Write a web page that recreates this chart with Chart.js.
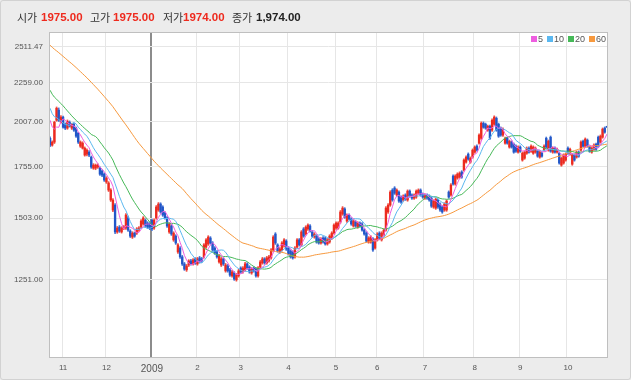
<!DOCTYPE html>
<html><head><meta charset="utf-8">
<script src="https://cdn.jsdelivr.net/npm/chart.js@4.4.1/dist/chart.umd.min.js"></script>
<style>
html,body{margin:0;padding:0;background:#ececec;}
#wrap{position:relative;width:631px;height:380px;overflow:hidden;background:#ececec;}
#frame{position:absolute;left:0;top:0;width:629px;height:378px;border:1px solid #d2d2d2;border-radius:3px;}
#c{position:absolute;left:0;top:0;}
.h{position:absolute;top:9px;font-size:11px;line-height:16px;white-space:nowrap;}
.k{font-family:'Noto Sans CJK KR','Noto Sans',sans-serif;color:#333;}
.v{font-family:'Liberation Sans',Arial,sans-serif;font-weight:bold;font-size:11.5px;color:#ee2a1e;}
.b{color:#222;}
#leg{position:absolute;top:34px;left:527px;font-family:'Liberation Sans',sans-serif;font-size:9px;color:#555;white-space:nowrap;}
#leg span.s{display:inline-block;width:6px;height:6px;margin:0 1px 0 4px;vertical-align:0px;}
</style></head>
<body><div id="wrap">
<div id="frame"></div>
<canvas id="c" width="631" height="380"></canvas>
<span class="h k" style="left:17px">시가</span>
<span class="h v" style="left:41px">1975.00</span>
<span class="h k" style="left:90px">고가</span>
<span class="h v" style="left:113px">1975.00</span>
<span class="h k" style="left:163px">저가</span>
<span class="h v" style="left:183px">1974.00</span>
<span class="h k" style="left:232px">종가</span>
<span class="h v b" style="left:256px">1,974.00</span>
<div id="leg"></div>
</div>
<script>
// ---- data ----
const monthLabels = ['10','11','12','2009','2','3','4','5','6','7','8','9','10'];
const tradingDays = [6,20,21,21,20,22,22,19,22,23,21,22,19];
const yTicks = [2511.47,2259,2007,1755,1503,1251];
const yTickLabels = ['2511.47','2259.00','2007.00','1755.00','1503.00','1251.00'];
const maPeriods = [5,10,20,60];
const maColors = ['#ee5ee0','#5bb8f0','#46b958','#f7993e'];

// closes before the first visible day (needed for the moving averages)
const earlierClose = [
2850,2870,2830,2810,2840,2800,2790,2815,2780,2760,2775,2745,2760,2730,2745,2720,2700,2715,2690,2680,2700,2665,
2690,2670,2650,2660,2630,2620,2600,2610,2590,2570,2580,2560,2545,2550,2530,2540,2520,2505,
2420,2380,2350,2300,2320,2250,2290,2330,2280,2300,
2230,2190,2150,2120,2130,2090,2065,2030,2024];

const open = [
1910,1871,1888,2016,2078,2004,2035,1992,1969,2004,
1969,1992,1969,1939,1865,1854,1816,1821,1832,1805,
1746,1746,1752,1746,1731,1715,1675,1635,1587,1540,
1563,1442,1463,1442,1459,1459,1504,1446,1420,1437,
1437,1450,1463,1477,1494,1481,1477,1494,1459,1504,
1540,1568,1554,1526,1504,1442,1468,1408,1424,1358,
1374,1338,1310,1287,1306,1322,1310,1330,1310,1334,
1330,1338,1378,1391,1416,1395,1374,1358,1318,1306,
1330,1283,1302,1287,1264,1275,1249,1264,1294,1279,
1287,1310,1298,1275,1294,1290,1264,1298,1314,1330,
1314,1322,1334,1366,1433,1387,1358,1366,1383,1403,
1374,1362,1358,1338,1378,1408,1387,1455,1433,1455,
1468,1442,1420,1424,1412,1395,1416,1416,1391,1399,
1416,1437,1459,1459,1486,1522,1545,1490,1517,1499,
1468,1486,1463,1481,1477,1450,1437,1399,1399,1412,
1374,1408,1437,1408,1429,1450,1531,1563,1635,1645,
1611,1625,1601,1587,1611,1587,1630,1611,1596,1601,
1620,1635,1615,1596,1611,1606,1596,1554,1549,1587,
1568,1554,1540,1540,1625,1611,1705,1665,1695,1700,
1726,1736,1778,1821,1778,1805,1832,1865,1882,1910,
1998,1992,1957,1980,1957,1992,2028,1992,1969,1928,
1882,1910,1860,1888,1876,1865,1832,1860,1789,1799,
1826,1854,1837,1826,1832,1837,1805,1826,1843,1910,
1843,1916,1832,1854,1832,1826,1762,1773,1789,1854,
1821,1767,1816,1805,1832,1843,1893,1865,1899,1860,
1832,1848,1876,1916,1888,1916,1969,1975];

const high = [
1918,1895,2010,2098,2092,2044,2041,2000,2018,2012,
1998,1999,1975,1944,1895,1890,1861,1850,1840,1811,
1770,1768,1769,1753,1737,1721,1702,1677,1642,1594,
1570,1466,1470,1465,1470,1524,1512,1452,1443,1442,
1461,1465,1496,1510,1500,1487,1483,1499,1500,1561,
1575,1574,1560,1532,1510,1483,1474,1443,1430,1393,
1380,1344,1316,1308,1327,1328,1331,1335,1336,1340,
1336,1393,1414,1426,1422,1401,1380,1364,1348,1336,
1335,1312,1308,1293,1285,1280,1273,1289,1299,1300,
1316,1315,1303,1296,1299,1295,1300,1324,1336,1335,
1340,1344,1372,1426,1439,1392,1376,1401,1414,1409,
1380,1367,1363,1380,1414,1414,1448,1461,1469,1478,
1474,1448,1439,1430,1418,1418,1422,1421,1414,1430,
1443,1478,1487,1487,1538,1556,1551,1523,1523,1505,
1496,1492,1487,1487,1483,1456,1443,1422,1426,1418,
1414,1439,1443,1443,1456,1556,1570,1632,1642,1652,
1641,1631,1607,1612,1617,1636,1636,1617,1617,1636,
1641,1641,1621,1617,1617,1612,1602,1588,1597,1593,
1574,1560,1574,1588,1631,1667,1712,1712,1722,1727,
1733,1796,1812,1828,1806,1850,1867,1872,1935,2006,
2006,1999,1987,1987,2024,2043,2036,1999,1976,1970,
1917,1917,1900,1895,1883,1872,1867,1867,1833,1839,
1861,1861,1872,1867,1861,1844,1839,1833,1872,1917,
1900,1923,1861,1861,1855,1833,1806,1823,1828,1861,
1855,1823,1823,1839,1839,1895,1900,1912,1906,1867,
1861,1878,1883,1923,1929,1970,1976,1975];

const low = [
1862,1865,1880,2010,2008,1998,1968,1960,1962,1975,
1961,1950,1915,1880,1858,1849,1810,1812,1808,1745,
1740,1738,1745,1708,1702,1678,1668,1628,1580,1533,
1435,1436,1440,1437,1452,1453,1444,1418,1414,1419,
1431,1444,1457,1472,1462,1457,1452,1448,1453,1498,
1534,1525,1511,1498,1462,1436,1427,1402,1389,1352,
1332,1304,1285,1281,1300,1305,1305,1308,1305,1313,
1316,1333,1372,1385,1390,1360,1348,1333,1313,1300,
1304,1278,1278,1262,1259,1247,1244,1259,1274,1274,
1282,1289,1274,1270,1278,1259,1259,1293,1309,1309,
1309,1317,1329,1360,1389,1357,1352,1361,1378,1364,
1345,1333,1329,1333,1373,1382,1382,1419,1428,1449,
1441,1419,1415,1394,1390,1390,1394,1386,1386,1394,
1411,1432,1453,1454,1480,1516,1502,1484,1494,1471,
1463,1462,1458,1463,1445,1428,1398,1394,1394,1360,
1369,1403,1411,1403,1424,1445,1525,1557,1581,1614,
1605,1576,1571,1581,1585,1581,1600,1590,1590,1595,
1614,1605,1595,1590,1590,1581,1552,1548,1543,1548,
1534,1525,1534,1534,1595,1605,1659,1659,1689,1694,
1694,1730,1772,1788,1772,1799,1826,1837,1876,1903,
1968,1962,1950,1903,1950,1985,1950,1915,1921,1921,
1876,1876,1854,1854,1826,1831,1826,1831,1783,1793,
1820,1826,1831,1820,1826,1804,1799,1804,1837,1854,
1837,1831,1826,1826,1826,1767,1756,1767,1783,1820,
1815,1761,1783,1799,1804,1837,1859,1859,1859,1831,
1826,1842,1842,1859,1882,1910,1939,1974];

const close = [
1871,1888,2004,2090,2016,2035,1974,1969,2010,1980,
1992,1957,1922,1888,1888,1882,1854,1843,1816,1752,
1762,1762,1762,1715,1710,1685,1695,1670,1635,1587,
1442,1459,1446,1459,1463,1517,1450,1424,1437,1424,
1455,1459,1490,1504,1468,1463,1459,1455,1494,1554,
1568,1531,1517,1504,1468,1477,1433,1437,1395,1387,
1338,1310,1290,1302,1322,1310,1326,1314,1330,1318,
1322,1387,1408,1420,1395,1366,1354,1338,1342,1330,
1310,1306,1283,1267,1279,1252,1267,1283,1279,1294,
1310,1294,1279,1290,1283,1264,1294,1318,1330,1314,
1334,1338,1366,1420,1395,1362,1370,1395,1408,1370,
1350,1338,1334,1374,1408,1387,1442,1424,1463,1472,
1446,1424,1433,1399,1395,1412,1399,1391,1408,1424,
1437,1472,1481,1481,1531,1549,1508,1517,1499,1477,
1490,1468,1481,1468,1450,1433,1403,1416,1420,1366,
1408,1433,1416,1437,1450,1549,1563,1625,1587,1620,
1635,1582,1577,1606,1591,1630,1606,1596,1611,1630,
1635,1611,1601,1611,1596,1587,1558,1582,1591,1554,
1540,1531,1568,1582,1601,1660,1665,1705,1715,1720,
1700,1789,1805,1794,1799,1843,1860,1843,1928,1998,
1974,1969,1980,1910,2016,2035,1957,1922,1928,1963,
1910,1882,1893,1860,1832,1837,1860,1837,1826,1832,
1854,1832,1865,1860,1854,1810,1832,1810,1865,1860,
1893,1837,1854,1832,1848,1773,1799,1816,1821,1826,
1848,1816,1789,1832,1810,1888,1865,1905,1865,1837,
1854,1871,1848,1865,1922,1963,1945,1974];

// ---- derived ----
const labels = [];
const monthStart = {};
monthLabels.forEach((m, mi) => {
  for (let d = 0; d < tradingDays[mi]; d++) {
    if (d === 0 && mi > 0) monthStart[labels.length] = m;
    labels.push(mi + '-' + d);
  }
});
const janIdx = Number(Object.keys(monthStart).find(k => monthStart[k] === '2009'));
const allClose = earlierClose.concat(close);
function movingAverage(n) {
  return close.map((_, i) => {
    const end = i + earlierClose.length;
    let s = 0;
    for (let k = end - n + 1; k <= end; k++) s += allClose[k];
    return s / n;
  });
}
const UP = '#ec2a1f', DOWN = '#2156c8';
const candleColor = close.map((c, i) => c >= open[i] ? UP : DOWN);
const wickColor = close.map((c, i) => c >= open[i] ? '#f0564c' : '#4d78d6');

const datasets = [
  { type: 'bar', label: 'wick', data: low.map((l, i) => [l, high[i]]), backgroundColor: wickColor,
    barThickness: 1, grouped: false, order: 3 },
  { type: 'bar', label: 'body', data: open.map((o, i) => [o, close[i]]), backgroundColor: candleColor,
    barThickness: 1.7, minBarLength: 1, grouped: false, order: 2 }
];
maPeriods.forEach((p, k) => {
  datasets.push({ type: 'line', label: String(p), data: movingAverage(p), borderColor: maColors[k],
    borderWidth: 1, pointRadius: 0, tension: 0, order: 1 });
});

document.getElementById('leg').innerHTML = maPeriods.map((p, k) =>
  '<span class="s" style="background:' + maColors[k] + '"></span>' + p).join('');

const plotFrame = {
  id: 'plotFrame',
  beforeDraw(chart) {
    const { ctx, chartArea: a } = chart;
    ctx.save(); ctx.fillStyle = '#ffffff';
    ctx.fillRect(a.left, a.top, a.right - a.left, a.bottom - a.top); ctx.restore();
  },
  afterDraw(chart) {
    const { ctx, chartArea: a } = chart;
    ctx.save(); ctx.strokeStyle = '#bfbfbf'; ctx.lineWidth = 1;
    ctx.strokeRect(a.left + 0.5, a.top + 0.5, a.right - a.left - 1, a.bottom - a.top - 1); ctx.restore();
  }
};

new Chart(document.getElementById('c'), {
  type: 'bar',
  data: { labels, datasets },
  plugins: [plotFrame],
  options: {
    responsive: false, animation: false, devicePixelRatio: 1,
    layout: { padding: { left: 0, right: 23, top: 32, bottom: 0 } },
    plugins: { legend: { display: false }, tooltip: { enabled: false } },
    scales: {
      x: {
        type: 'category', offset: true,
        afterFit: s => { s.height = 22; },
        border: { display: false },
        grid: {
          offset: true, drawTicks: false,
          color: ctx => ctx.index === janIdx ? '#8c8c8c' : (monthStart[ctx.index] !== undefined ? '#e6e6e6' : 'rgba(0,0,0,0)'),
          lineWidth: ctx => ctx.index === janIdx ? 2 : 1
        },
        ticks: {
          autoSkip: false, maxRotation: 0, padding: 5, color: '#555',
          font: ctx => ctx.index === janIdx ? { family: 'Liberation Sans', size: 10 } : { family: 'Liberation Sans', size: 8 },
          callback: (v, i) => monthStart[i] !== undefined ? monthStart[i] : ''
        }
      },
      y: {
        type: 'logarithmic', position: 'left', min: 988, max: 2627,
        afterFit: s => { s.width = 49; },
        afterBuildTicks: s => { s.ticks = yTicks.map(v => ({ value: v })); },
        border: { display: false },
        grid: { color: '#e6e6e6', drawTicks: false },
        ticks: {
          padding: 6, color: '#555', font: { family: 'Liberation Sans', size: 8 },
          callback: v => { const i = yTicks.indexOf(v); return i >= 0 ? yTickLabels[i] : ''; }
        }
      }
    }
  }
});
</script>
</body></html>
